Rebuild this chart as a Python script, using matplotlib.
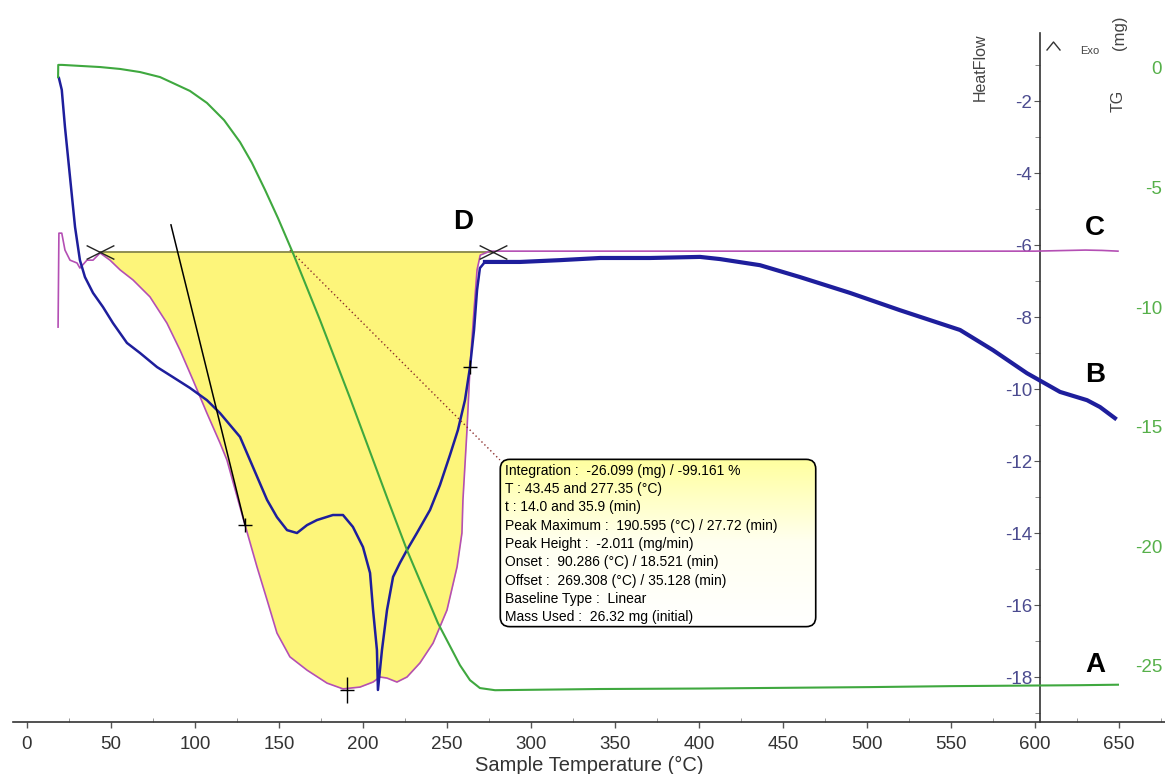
import numpy as np
import matplotlib
matplotlib.use("Agg")
import matplotlib.pyplot as plt
from matplotlib.path import Path
from matplotlib.patches import FancyBboxPatch
from matplotlib.lines import Line2D
from matplotlib.ticker import MultipleLocator
from matplotlib.colors import LinearSegmentedColormap

plt.rcParams['font.family'] = ['Liberation Sans', 'DejaVu Sans']
plt.rcParams['axes.unicode_minus'] = False

# --- data ---
# TG curve (green, mg)
tg_temp = [18.5, 18.6, 20.8, 43.5, 55.4, 67.3, 79.2, 86.9, 97.0, 107.1, 117.3, 126.8,
           133.9, 141.7, 149.4, 158.3, 174.4, 192.3, 214.9, 226.2, 244.6, 257.7, 263.7,
           269.6, 278.6, 341.0, 400.6, 501.8, 549.4, 626.8, 649.4]
tg_mass = [-0.38, 0.13, 0.13, 0.04, -0.04, -0.17, -0.38, -0.63, -0.96, -1.46, -2.18, -3.10,
           -3.97, -5.10, -6.28, -7.74, -10.54, -13.81, -18.08, -20.17, -23.22, -24.98, -25.61,
           -25.94, -26.03, -25.98, -25.96, -25.90, -25.86, -25.82, -25.80]

# HeatFlow curve (blue)
hf_temp = [19.0, 20.7, 22.6, 25.6, 28.6, 31.5, 34.5, 39.3, 45.2, 51.2, 59.5, 67.3,
           77.4, 86.9, 97.0, 107.1, 114.9, 126.8, 142.9, 148.8, 154.8, 160.7, 166.7,
           172.6, 182.1, 188.1, 194.0, 200.0, 204.2, 206.0, 208.3, 208.9, 211.3,
           214.3, 217.9, 222.0, 226.2, 232.1, 239.9, 245.8, 251.8, 256.5, 260.7,
           263.7, 266.1, 267.9, 269.6, 272.6, 293.5, 317.3, 341.1, 370.8, 400.6,
           412.5, 436.3, 460.1, 489.9, 519.6, 555.4, 575.0, 595.2, 602.4, 614.9,
           631.0, 638.7, 647.6]
heatflow = [-1.36, -1.69, -2.72, -4.11, -5.50, -6.42, -6.89, -7.33, -7.72, -8.17, -8.72, -9.00,
            -9.39, -9.67, -9.97, -10.31, -10.67, -11.33, -13.08, -13.56, -13.92, -14.00, -13.78,
            -13.64, -13.50, -13.50, -13.83, -14.39, -15.11, -16.14, -17.25, -18.36, -17.25,
            -16.14, -15.22, -14.83, -14.47, -14.00, -13.36, -12.67, -11.83, -11.14, -10.31,
            -9.39, -8.36, -7.25, -6.64, -6.47, -6.47, -6.42, -6.36, -6.36, -6.33,
            -6.39, -6.56, -6.89, -7.33, -7.81, -8.36, -8.92, -9.56, -9.75, -10.08,
            -10.31, -10.50, -10.81]

# DTG curve (purple)
dtg_temp = [18.5, 19.0, 20.7, 22.6, 25.6, 29.8, 31.5, 35.7, 39.3, 43.5, 49.4, 55.4,
            63.1, 73.2, 83.3, 91.1, 98.8, 107.1, 114.9, 119.0, 125.6, 129.8, 136.9,
            142.9, 148.8, 156.5, 166.7, 178.6, 188.1, 198.2, 206.0, 210.1, 214.3,
            220.2, 226.2, 233.9, 241.7, 250.0, 256.0, 258.9, 259.5, 261.9, 263.7,
            266.1, 267.9, 269.8, 275.6, 350.0, 450.0, 600.0, 630.0, 640.0, 649.4]
dtg = [-8.28, -5.67, -5.67, -6.14, -6.42, -6.50, -6.64, -6.42, -6.42, -6.22, -6.42, -6.69,
       -6.97, -7.44, -8.17, -8.92, -9.75, -10.67, -11.50, -11.97, -13.08, -13.78, -14.94,
       -15.86, -16.78, -17.44, -17.81, -18.17, -18.33, -18.28, -18.14, -18.00, -18.03,
       -18.14, -18.00, -17.61, -17.06, -16.14, -14.94, -14.00, -13.08, -11.14, -9.39,
       -7.81, -6.69, -6.28, -6.17, -6.17, -6.17, -6.17, -6.14, -6.15, -6.17]

# integration analysis
integ_limits = [43.45, 277.35]
baseline_hf = -6.19
inflection_temp = [129.8, 263.7]
inflection_hf = [-13.78, -9.39]
peak_temp = 190.595
peak_hf = -18.36
tangent_temp = [85.7, 129.8]
tangent_hf = [-5.44, -13.78]
pointer_temp = [156.5, 281.5]
pointer_hf = [-6.14, -11.97]

x_ticks = list(range(0, 651, 50))
hf_ticks = list(range(-2, -19, -2))
tg_ticks = [0, -5, -10, -15, -20, -25]
hf_axis_temp = 603

info_lines = [
    "Integration :  -26.099 (mg) / -99.161 %",
    "T : 43.45 and 277.35 (°C)",
    "t : 14.0 and 35.9 (min)",
    "Peak Maximum :  190.595 (°C) / 27.72 (min)",
    "Peak Height :  -2.011 (mg/min)",
    "Onset :  90.286 (°C) / 18.521 (min)",
    "Offset :  269.308 (°C) / 35.128 (min)",
    "Baseline Type :  Linear",
    "Mass Used :  26.32 mg (initial)",
]

W, H = 1165, 774


def fx(x):
    return x / W


def fy(y):
    return 1 - y / H


fig = plt.figure(figsize=(W / 100, H / 100), dpi=100)
ax = fig.add_axes([fx(13), fy(722), fx(1165) - fx(13), fy(33) - fy(722)])
ax.set_xlim(-8.33, 677.4)
ax.set_ylim(-19.25, -0.11)

ax.spines['top'].set_visible(False)
ax.spines['right'].set_visible(False)
ax.spines['left'].set_position(('data', hf_axis_temp))
for s in ['left', 'bottom']:
    ax.spines[s].set_color('#333333')
    ax.spines[s].set_linewidth(1.2)

ax.set_xticks(x_ticks)
ax.xaxis.set_minor_locator(MultipleLocator(25))
ax.tick_params(axis='x', which='major', direction='out', length=4, width=1,
               pad=6, labelsize=13.5, labelcolor='#333333', color='#555555')
ax.tick_params(axis='x', which='minor', direction='in', length=3, color='#888888')
ax.set_yticks(hf_ticks)
ax.yaxis.set_minor_locator(MultipleLocator(1))
ax.tick_params(axis='y', which='major', direction='out', length=4.5, pad=1,
               labelsize=13.5, labelcolor='#4b4b8f', color='#555555')
ax.tick_params(axis='y', which='minor', direction='out', length=3.5, color='#777777')

# yellow integration area
t = np.array(dtg_temp)
d = np.array(dtg)
mask = (t >= integ_limits[0]) & (t <= integ_limits[1])
ax.fill_between(t[mask], d[mask], baseline_hf, color='#fdf57a', lw=0, zorder=1)
ax.plot(integ_limits, [baseline_hf, baseline_hf], color='#7d7d3c', lw=1.2, zorder=2)

ax.plot(dtg_temp, dtg, color='#b44fb4', lw=1.2, zorder=3)

# heat flow: thinner in the peak region, a wider noisy band afterwards
ht = np.array(hf_temp)
hv = np.array(heatflow)
early = ht <= 272.6
late = ht >= 272.6
ax.plot(ht[early], hv[early], color='#1e1e9c', lw=1.8, zorder=4)
ax.plot(ht[late], hv[late], color='#1e1e9c', lw=3.0, zorder=4)

ax.plot(tangent_temp, tangent_hf, color='black', lw=1.1, zorder=5)
ax.plot(pointer_temp, pointer_hf, color='#8b2d2d', lw=1, ls=(0, (1, 2)), zorder=5)

x_marker = Path([(-1, -0.5), (1, 0.5), (-1, 0.5), (1, -0.5)],
                [Path.MOVETO, Path.LINETO, Path.MOVETO, Path.LINETO])
tall_plus = Path([(-0.5, 0), (0.5, 0), (0, -1), (0, 1)],
                 [Path.MOVETO, Path.LINETO, Path.MOVETO, Path.LINETO])
ax.plot(integ_limits, [baseline_hf, baseline_hf], ls='none', marker=x_marker, ms=20,
        mec='#222222', mew=1, mfc='none', zorder=6)
ax.plot(inflection_temp, inflection_hf, ls='none', marker='+', ms=10, mew=1,
        color='black', zorder=6)
ax.plot([peak_temp], [peak_hf], ls='none', marker=tall_plus, ms=19, mew=1,
        mec='black', zorder=6)

# TG axis
ax2 = ax.twinx()
ax2.set_ylim(-27.36, 1.464)
for s in ax2.spines.values():
    s.set_visible(False)
ax2.yaxis.set_ticks_position('left')
ax2.spines['left'].set_position(('axes', 1.0))
ax2.set_yticks(tg_ticks)
ax2.tick_params(axis='y', length=0, pad=2, labelsize=13.5, labelcolor='#56b04a')
ax2.plot(tg_temp, tg_mass, color='#3fa83f', lw=1.5)

# axis titles and labels
fig.text(fx(589), fy(765), "Sample Temperature (°C)", ha='center', va='center',
         fontsize=14.5, color='#333333')
fig.text(fx(980), fy(67), "HeatFlow", rotation=90, ha='center', va='center',
         fontsize=11.5, color='#444444')
fig.text(fx(1118), fy(101), "TG", rotation=90, ha='center', va='center',
         fontsize=11.5, color='#444444')
fig.text(fx(1120), fy(33), "(mg)", rotation=90, ha='center', va='center',
         fontsize=12, color='#444444')
fig.text(fx(1090), fy(51), "Exo", ha='center', va='center', fontsize=8, color='#444444')
fig.add_artist(Line2D([fx(1047), fx(1053.5), fx(1060)], [fy(50), fy(42), fy(50)],
                      transform=fig.transFigure, color='#333333', lw=1))

for letter, (px, py) in {'A': (1095, 665), 'B': (1095, 375),
                         'C': (1095, 228), 'D': (463, 222)}.items():
    fig.text(fx(px), fy(py), letter, ha='center', va='center', fontsize=20,
             fontweight='bold', color='black')

# info box
bx0, bx1, by0, by1 = 499, 817, 458, 628
axb = fig.add_axes([fx(bx0), fy(by1), fx(bx1) - fx(bx0), fy(by0) - fy(by1)])
axb.set_axis_off()
axb.set_xlim(0, 1)
axb.set_ylim(0, 1)
box = FancyBboxPatch((0.004, 0.008), 0.992, 0.984,
                     boxstyle='round,pad=0,rounding_size=0.03',
                     mutation_aspect=(bx1 - bx0) / (by1 - by0),
                     transform=axb.transAxes, fc='none', ec='black', lw=1.2, zorder=3)
axb.add_patch(box)
grad = np.linspace(0, 1, 100).reshape(-1, 1)
cmap = LinearSegmentedColormap.from_list('boxgrad', ['#ffffff', '#fffff0', '#ffff9e'])
im = axb.imshow(grad, cmap=cmap, origin='lower', extent=(0, 1, 0, 1), aspect='auto', zorder=1)
im.set_clip_path(box)
for i, line in enumerate(info_lines):
    ypx = 471 + i * 18.25
    axb.text((505 - bx0) / (bx1 - bx0), (by1 - ypx) / (by1 - by0), line,
             ha='left', va='center', fontsize=10, color='black', zorder=4)

fig.savefig('out.png', dpi=100)
